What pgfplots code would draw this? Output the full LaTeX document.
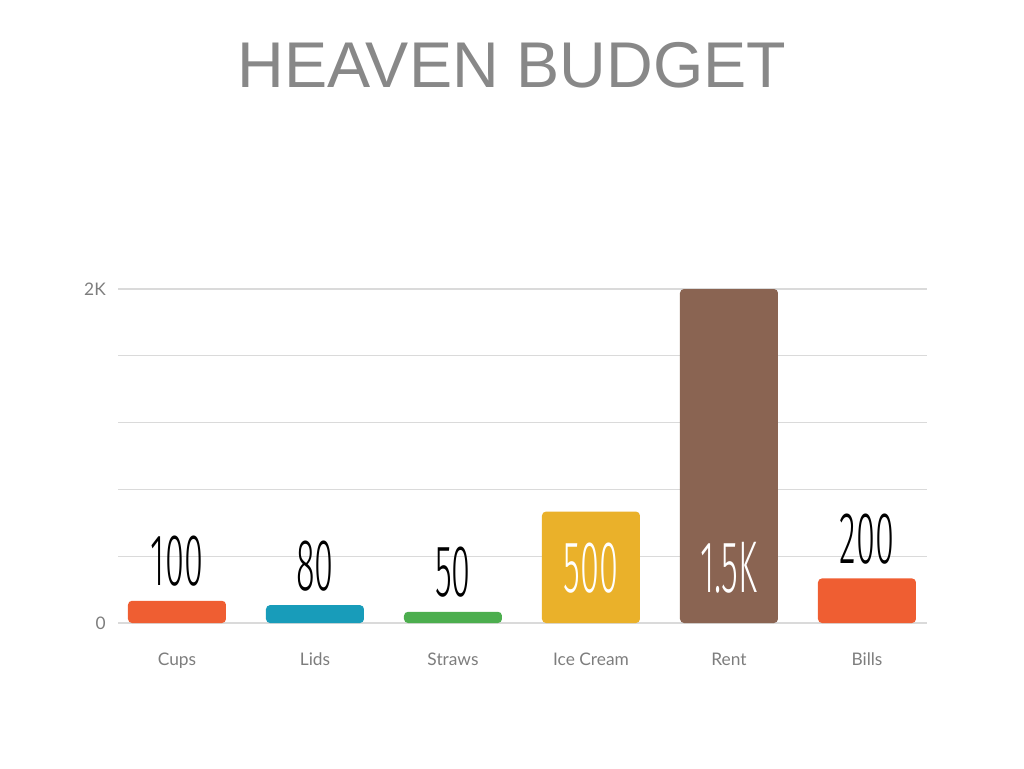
\documentclass[border=0pt]{standalone}
\usepackage{fontspec}
\setmainfont{Lato}
\newfontfamily\titlefont{Liberation Sans}
\newfontfamily\numfont[FakeStretch=0.47]{Fira Sans Light}
\usepackage{pgfplots}
\pgfplotsset{compat=1.18}
\definecolor{cupsc}{RGB}{239,94,50}
\definecolor{lidsc}{RGB}{24,156,186}
\definecolor{strawsc}{RGB}{76,174,78}
\definecolor{icec}{RGB}{234,177,42}
\definecolor{rentc}{RGB}{138,100,82}
\definecolor{billsc}{RGB}{239,94,50}
\definecolor{gridc}{RGB}{218,218,218}
\definecolor{tickc}{RGB}{125,125,125}
\definecolor{titlec}{RGB}{136,136,136}
\begin{document}
\begin{tikzpicture}
\path[use as bounding box] (0,0) rectangle (768pt,576pt);
\begin{axis}[
  at={(88.5pt,108.75pt)}, anchor=south west,
  width=606.75pt, height=250.5pt, scale only axis,
  xmin=-0.4275, xmax=5.435,
  ymin=0, ymax=2000,
  axis line style={draw=none},
  major tick length=0pt,
  xtick={0,1,2,3,4,5},
  xticklabels={Cups,Lids,Straws,Ice Cream,Rent,Bills},
  ytick={0,400,800,1200,1600,2000},
  yticklabels={0,,,,,2K},
  ymajorgrids, grid style={gridc, line width=0.9pt},
  xticklabel style={font=\fontsize{13}{15}\selectfont, text=tickc, anchor=north, inner sep=0pt, yshift=-22pt},
  yticklabel style={font=\fontsize{13}{15}\selectfont, text=tickc, anchor=east, inner sep=0pt, xshift=-9pt},
  ybar, bar width=73.5pt, bar shift=0pt,
  point meta=explicit symbolic,
  every node near coord/.style={font=\numfont\fontsize{55}{60}\selectfont, text=black, anchor=south, inner sep=0pt},
  clip=false,
]
\addplot[fill=cupsc, draw=none, rounded corners=3pt, nodes near coords, every node near coord/.append style={yshift=10.5pt}] coordinates {(0,133) [100]};
\addplot[fill=lidsc, draw=none, rounded corners=3pt, nodes near coords, every node near coord/.append style={yshift=10.5pt}] coordinates {(1,107) [80]};
\addplot[fill=strawsc, draw=none, rounded corners=3pt, nodes near coords, every node near coord/.append style={yshift=10.5pt}] coordinates {(2,67) [50]};
\addplot[fill=icec, draw=none, rounded corners=3pt] coordinates {(3,667)};
\addplot[fill=rentc, draw=none, rounded corners=3pt] coordinates {(4,2000)};
\addplot[fill=billsc, draw=none, rounded corners=3pt, nodes near coords, every node near coord/.append style={yshift=10.5pt}] coordinates {(5,267) [200]};
\addplot[draw=none, mark=none, nodes near coords,
  every node near coord/.append style={text=white}]
  coordinates {(3,178) [500] (4,178) [1.5K]};
\end{axis}
\node[font=\titlefont\fontsize{48.5}{56}\selectfont, text=titlec] at (384pt,527pt) {HEAVEN BUDGET};
\end{tikzpicture}
\end{document}
